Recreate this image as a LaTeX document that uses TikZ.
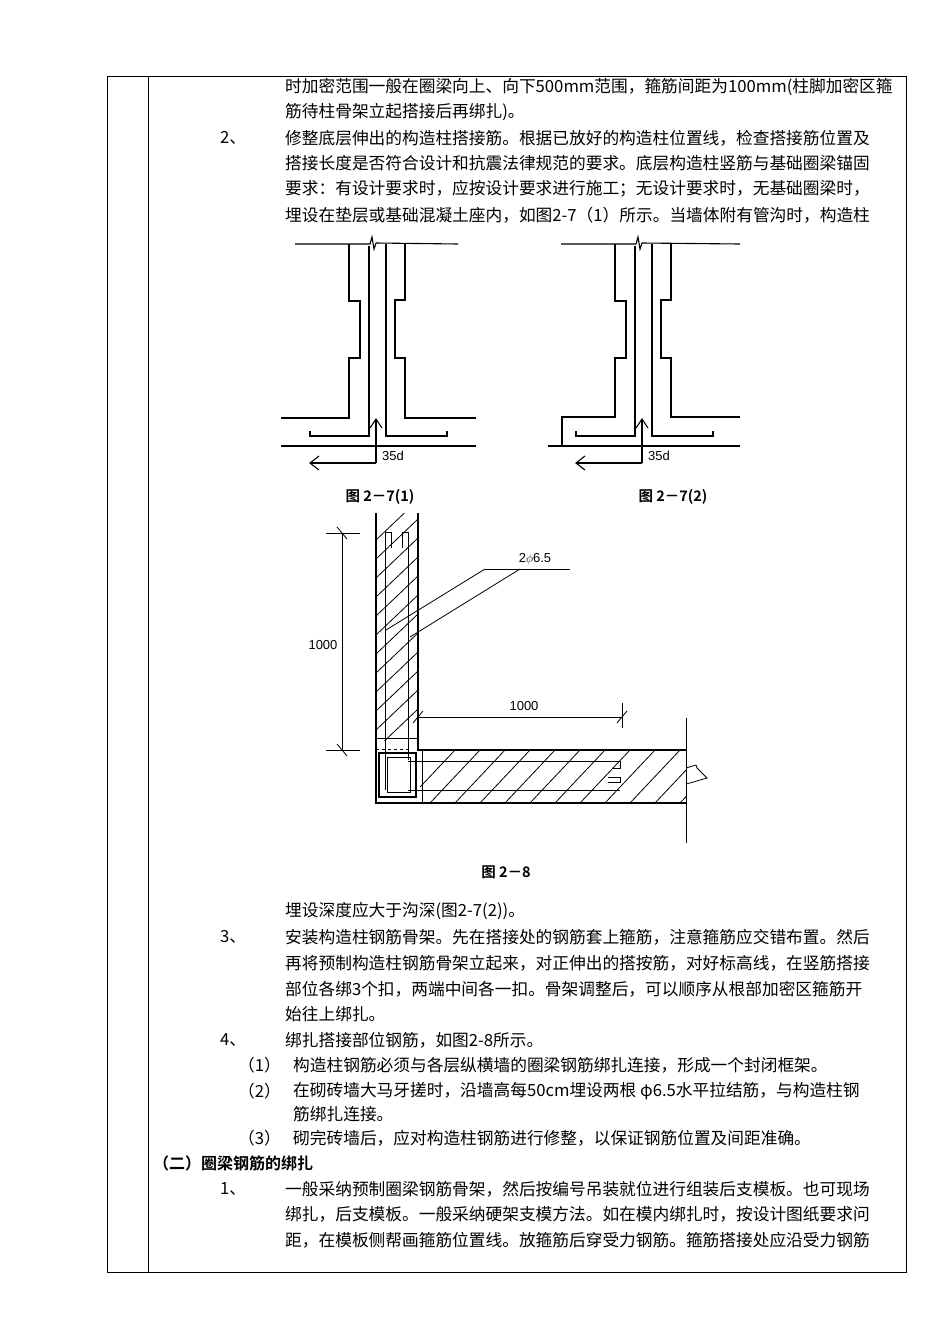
\documentclass[tikz,border=0pt]{standalone}
\usepackage{fontspec}
\setmainfont{Noto Sans CJK SC}[BoldFont={Noto Sans CJK SC Bold}]
\newfontfamily\latinf{Liberation Sans}
\begin{document}
\begin{tikzpicture}[x=1pt,y=-1pt,
  tx/.style={anchor=west,inner sep=0pt,font=\fontsize{16.7}{19}\selectfont},
  figcap/.style={inner sep=0pt,font=\fontsize{14.5}{17}\selectfont\bfseries},
  dl/.style={inner sep=0pt,font=\latinf\fontsize{13}{15}\selectfont},
  ln/.style={line width=1.1pt},
  th/.style={line width=0.8pt}]
\useasboundingbox (0,0) rectangle (950,1344);
% table
\draw[th] (107,76) rectangle (906,1272);
\draw[th] (148,76) -- (148,1272);
% text
\node[tx] (t1) at (285,87) {时加密范围一般在圈梁向上、向下500mm范围，箍筋间距为100mm(柱脚加密区箍};
\node[tx] (t2) at (285,112) {筋待柱骨架立起搭接后再绑扎)。};
\node[tx] (n2) at (220,138) {2、};
\node[tx] (t3) at (285,138) {修整底层伸出的构造柱搭接筋。根据已放好的构造柱位置线，检查搭接筋位置及};
\node[tx] (t4) at (285,163) {搭接长度是否符合设计和抗震法律规范的要求。底层构造柱竖筋与基础圈梁锚固};
\node[tx] (t5) at (285,189) {要求：有设计要求时，应按设计要求进行施工；无设计要求时，无基础圈梁时，};
\node[tx] (t6) at (285,215) {埋设在垫层或基础混凝土座内，如图2-7（1）所示。当墙体附有管沟时，构造柱};
\node[tx] (t7) at (285,911) {埋设深度应大于沟深(图2-7(2))。};
\node[tx] (n3) at (220,937) {3、};
\node[tx] (t8) at (285,937) {安装构造柱钢筋骨架。先在搭接处的钢筋套上箍筋，注意箍筋应交错布置。然后};
\node[tx] (t9) at (285,963) {再将预制构造柱钢筋骨架立起来，对正伸出的搭按筋，对好标高线，在竖筋搭接};
\node[tx] (t10) at (285,989) {部位各绑3个扣，两端中间各一扣。骨架调整后，可以顺序从根部加密区箍筋开};
\node[tx] (t11) at (285,1014) {始往上绑扎。};
\node[tx] (n4) at (220,1040) {4、};
\node[tx] (t12) at (285,1040) {绑扎搭接部位钢筋，如图2-8所示。};
\node[tx] (p1) at (238,1065) {（1）};
\node[tx] (t13) at (293,1065) {构造柱钢筋必须与各层纵横墙的圈梁钢筋绑扎连接，形成一个封闭框架。};
\node[tx] (p2) at (238,1091) {（2）};
\node[tx] (t14) at (293,1091) {在砌砖墙大马牙搓时，沿墙高每50cm埋设两根 φ6.5水平拉结筋，与构造柱钢};
\node[tx] (t15) at (293,1114) {筋绑扎连接。};
\node[tx] (p3) at (238,1138) {（3）};
\node[tx] (t16) at (293,1138) {砌完砖墙后，应对构造柱钢筋进行修整，以保证钢筋位置及间距准确。};
\node[tx,font=\fontsize{16}{19}\selectfont\bfseries] (h2) at (153,1163) {（二）圈梁钢筋的绑扎};
\node[tx] (n1) at (220,1189) {1、};
\node[tx] (t17) at (285,1189) {一般采纳预制圈梁钢筋骨架，然后按编号吊装就位进行组装后支模板。也可现场};
\node[tx] (t18) at (285,1214) {绑扎，后支模板。一般采纳硬架支模方法。如在模内绑扎时，按设计图纸要求问};
\node[tx] (t19) at (285,1240) {距，在模板侧帮画箍筋位置线。放箍筋后穿受力钢筋。箍筋搭接处应沿受力钢筋};
% Fig 2-7(1)
\begin{scope}[ln]
\draw (295,244) -- (370,244) -- (372,237) -- (374,249) -- (376,243) -- (458,244);
\draw (349,244) -- (349,301) -- (360,301) -- (360,358) -- (349,358) -- (349,418) -- (281,418);
\draw (369,246) -- (369,436) -- (310,436) -- (310,431);
\draw (386,244) -- (386,436) -- (447,436) -- (447,431);
\draw (405,244) -- (405,300) -- (395,300) -- (395,358) -- (405,358) -- (405,418) -- (476,418);
\draw (281,446) -- (476,446);
\coordinate (a1) at (376,419); \coordinate (a2) at (376,463); \coordinate (a3) at (310,463);
\draw (a2) -- (a1); \draw (370,428) -- (a1) -- (382,428);
\draw (a2) -- (a3); \draw (319,456) -- (a3) -- (319,470);
\end{scope}
\node[dl] (d1) at (393,456) {35d};
\node[figcap] (c1) at (380,497) {图 2－7(1)};
% Fig 2-7(2)
\begin{scope}[ln,xshift=266pt]
\draw (295,244) -- (370,244) -- (372,237) -- (374,249) -- (376,243) -- (474,244);
\draw (349,244) -- (349,301) -- (360,301) -- (360,358) -- (349,358) -- (349,417) -- (296,417) -- (296,446);
\draw (369,246) -- (369,436) -- (310,436) -- (310,431);
\draw (386,244) -- (386,436) -- (447,436) -- (447,431);
\draw (405,244) -- (405,300) -- (395,300) -- (395,358) -- (405,358) -- (405,417) -- (474,417);
\draw (282,446) -- (474,446);
\coordinate (b1) at (376,419); \coordinate (b2) at (376,463); \coordinate (b3) at (310,463);
\draw (b2) -- (b1); \draw (370,428) -- (b1) -- (382,428);
\draw (b2) -- (b3); \draw (319,456) -- (b3) -- (319,470);
\end{scope}
\node[dl] (d2) at (659,456) {35d};
\node[figcap] (c2) at (673,497) {图 2－7(2)};
% Fig 2-8
\begin{scope}[th]
\begin{scope}
\clip (376,513) rectangle (418,740);
\foreach \k in {0,...,11} \draw (376,540+\k*19) -- (418,500+\k*19);
\end{scope}
\begin{scope}
\clip (420,750) rectangle (686,803);
\foreach \k in {0,...,12} \draw (405+\k*25,803) -- (455+\k*25,750);
\end{scope}
\draw[line width=1.1pt] (376,513) -- (376,803) -- (686,803);
\draw[line width=1.1pt] (418,513) -- (418,750) -- (686,750);
\draw (686,718) -- (686,843);
\draw (686,768) -- (696,765) -- (697,768) -- (707,778) -- (690,783) -- (686,784);
\draw (376,738) -- (418,738);
\draw[dashed] (376,749) -- (408,749);
\draw (385,532) -- (385,790) (408,532) -- (408,760);
\draw (385,532) -- (391,532) -- (391,548); \draw (408,532) -- (402,532) -- (402,548);
\draw[line width=1.6pt] (379,753) rectangle (416,797);
\draw (387,757) rectangle (410,792);
\draw (422,750) -- (422,803);
\draw (408,761) -- (620,761) -- (620,768) -- (612,768);
\draw (408,790) -- (620,790);
\draw (608,777) -- (620,777) -- (620,782) -- (608,782);
% dimensions
\coordinate (v1) at (342,533); \coordinate (v2) at (342,750);
\draw (v1) -- (v2);
\draw (326,533) -- (360,533) (326,750) -- (360,750);
\draw (337,527) -- (347,539) (337,744) -- (347,756);
\coordinate (h1) at (418,717); \coordinate (h2c) at (622,717);
\draw (h1) -- (h2c); \draw (622,703) -- (622,728);
\draw (413,723) -- (423,711) (617,723) -- (627,711);
% leader
\coordinate (L1) at (485,569); \coordinate (L2) at (520,569); \coordinate (L3) at (570,569);
\draw (L1) -- (L3);
\draw (L1) -- (386,630); \draw (L2) -- (410,637);
\end{scope}
\node[dl] (r1) at (323,645) {1000};
\node[dl] (r2) at (524,706) {1000};
\node[dl] (r3) at (535,559) {2$\phi$6.5};
\node[figcap] (c3) at (506,872) {图 2－8};
\end{tikzpicture}
\end{document}
